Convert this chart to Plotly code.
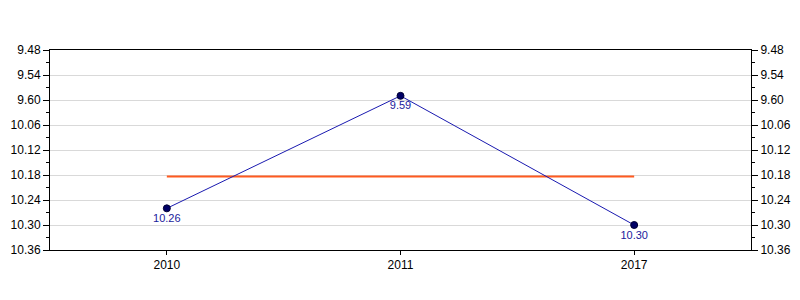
import plotly.graph_objects as go

# Data
years = ["2010", "2011", "2017"]
times_sec = [626, 599, 630]          # times in seconds (min.sec display)
time_labels = ["10.26", "9.59", "10.30"]

tick_secs = [588, 594, 600, 606, 612, 618, 624, 630, 636]
tick_labels = ["9.48", "9.54", "9.60", "10.06", "10.12", "10.18", "10.24", "10.30", "10.36"]
minor_secs = [591, 597, 603, 609, 615, 621, 627, 633]

avg = sum(times_sec) / len(times_sec)

FONT = "Liberation Sans, Arial, sans-serif"

fig = go.Figure()

fig.add_trace(go.Scatter(
    x=years, y=[avg] * len(years), mode="lines",
    line=dict(color="#FF5A1F", width=2), hoverinfo="skip", showlegend=False,
))

fig.add_trace(go.Scatter(
    x=years, y=times_sec, mode="lines+markers+text",
    line=dict(color="#1a1aB0", width=1),
    marker=dict(size=7, color="#000066", line=dict(color="#000033", width=1)),
    text=time_labels, textposition="bottom center",
    textfont=dict(color="#1a1a9c", size=11, family=FONT),
    showlegend=False, cliponaxis=False,
))

# invisible trace for right axis
fig.add_trace(go.Scatter(
    x=years, y=times_sec, yaxis="y2", mode="markers",
    marker=dict(opacity=0), hoverinfo="skip", showlegend=False,
))

yax = dict(
    range=[636, 588], tickmode="array", tickvals=tick_secs, ticktext=tick_labels,
    ticks="outside", ticklen=6, tickcolor="black", tickwidth=1,
    showline=True, linecolor="black", linewidth=1,
    showgrid=True, gridcolor="#d9d9d9", gridwidth=1, zeroline=False,
    tickfont=dict(size=12, color="black", family=FONT),
    automargin=False,
    minor=dict(tickmode="array", tickvals=minor_secs, ticks="outside",
               ticklen=3, tickcolor="black", showgrid=False),
)

fig.update_layout(
    width=800, height=300,
    margin=dict(l=50, r=49, t=50, b=50),
    paper_bgcolor="white", plot_bgcolor="white",
    font=dict(family=FONT, size=12, color="black"),
    xaxis=dict(
        type="category", range=[-0.5, 2.5],
        ticks="outside", ticklen=4, tickcolor="black",
        showline=True, linecolor="black", linewidth=1, mirror=True,
        showgrid=False, zeroline=False, automargin=False,
        tickfont=dict(size=12, color="black", family=FONT),
    ),
    yaxis=yax,
    yaxis2=dict(yax, overlaying="y", side="right", showgrid=False),
)

fig.write_html("out.html")
